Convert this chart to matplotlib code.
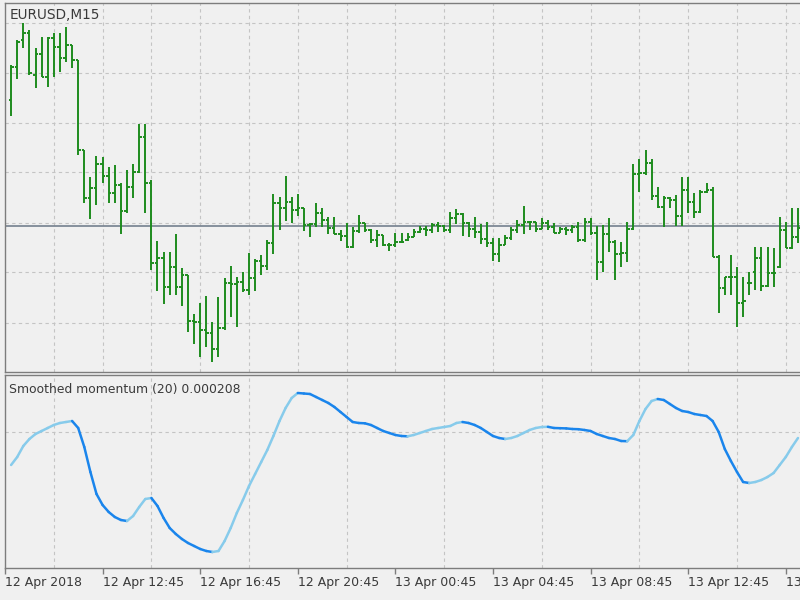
import numpy as np
import matplotlib
matplotlib.use("Agg")
import matplotlib.pyplot as plt
from matplotlib.collections import LineCollection

# ---------------- data ----------------
symbol_title = "EURUSD,M15"
indicator_name = "Smoothed momentum (20)"
indicator_last = "0.000208"

opens = [1.23645, 1.23711, 1.23765, 1.23779, 1.23695, 1.23737, 1.23691, 1.23769, 1.23751, 1.23729,
         1.23755, 1.23725, 1.23545, 1.23449, 1.23469, 1.23517, 1.23493, 1.23459, 1.23475, 1.23423,
         1.23471, 1.23501, 1.23571, 1.23479, 1.23319, 1.23329, 1.23271, 1.23311, 1.23271, 1.23295,
         1.23203, 1.23201, 1.23185, 1.23179, 1.23147, 1.23189, 1.23279, 1.23277, 1.23281, 1.23265,
         1.23289, 1.23323, 1.23313, 1.23359, 1.23439, 1.23429, 1.23441, 1.23425, 1.23429, 1.23395,
         1.23397, 1.23419, 1.23405, 1.23389, 1.23377, 1.23373, 1.23351, 1.23383, 1.23399, 1.23385,
         1.23365, 1.23375, 1.23355, 1.23355, 1.23361, 1.23365, 1.23371, 1.23381, 1.23387, 1.23385,
         1.23395, 1.23393, 1.23385, 1.23409, 1.23417, 1.23399, 1.23387, 1.23381, 1.23367, 1.23359,
         1.23337, 1.23355, 1.23369, 1.23385, 1.23395, 1.23401, 1.23401, 1.23387, 1.23399, 1.23391,
         1.23379, 1.23387, 1.23385, 1.23391, 1.23365, 1.23401, 1.23379, 1.23321, 1.23377, 1.23361,
         1.23337, 1.23339, 1.23387, 1.23497, 1.23499, 1.23519, 1.23453, 1.23431, 1.23449, 1.23445,
         1.23413, 1.23465, 1.23441, 1.23421, 1.23461, 1.23465, 1.23331, 1.23269, 1.23291, 1.23291,
         1.23239, 1.23279, 1.23301, 1.23329, 1.23273, 1.23299, 1.23311, 1.23385, 1.23349, 1.23371]
highs = [1.23715, 1.23765, 1.23799, 1.23785, 1.23749, 1.23771, 1.23771, 1.23779, 1.23779, 1.23791,
         1.23755, 1.23725, 1.23545, 1.23491, 1.23533, 1.23531, 1.23511, 1.23515, 1.23479, 1.23505,
         1.23517, 1.23597, 1.23597, 1.23485, 1.23363, 1.23341, 1.23341, 1.23377, 1.23309, 1.23295,
         1.23217, 1.23239, 1.23253, 1.23201, 1.23251, 1.23289, 1.23313, 1.23291, 1.23301, 1.23339,
         1.23327, 1.23335, 1.23365, 1.23457, 1.23451, 1.23493, 1.23451, 1.23457, 1.23429, 1.23399,
         1.23439, 1.23429, 1.23411, 1.23411, 1.23385, 1.23399, 1.23391, 1.23415, 1.23399, 1.23387,
         1.23385, 1.23375, 1.23359, 1.23379, 1.23379, 1.23379, 1.23387, 1.23393, 1.23393, 1.23399,
         1.23401, 1.23395, 1.23421, 1.23427, 1.23419, 1.23401, 1.23411, 1.23397, 1.23401, 1.23369,
         1.23369, 1.23375, 1.23391, 1.23405, 1.23433, 1.23403, 1.23401, 1.23409, 1.23405, 1.23399,
         1.23391, 1.23391, 1.23395, 1.23401, 1.23409, 1.23409, 1.23393, 1.23395, 1.23409, 1.23365,
         1.23361, 1.23401, 1.23517, 1.23527, 1.23545, 1.23527, 1.23471, 1.23453, 1.23451, 1.23455,
         1.23491, 1.23491, 1.23459, 1.23465, 1.23479, 1.23471, 1.23335, 1.23291, 1.23335, 1.23311,
         1.23291, 1.23301, 1.23351, 1.23351, 1.23351, 1.23349, 1.23411, 1.23401, 1.23429, 1.23429]
lows = [1.23613, 1.23687, 1.23749, 1.23695, 1.23669, 1.23691, 1.23671, 1.23691, 1.23701, 1.23721,
        1.23709, 1.23535, 1.23439, 1.23407, 1.23435, 1.23479, 1.23439, 1.23439, 1.23377, 1.23419,
        1.23449, 1.23499, 1.23419, 1.23305, 1.23263, 1.23237, 1.23255, 1.23255, 1.23233, 1.23181,
        1.23157, 1.23131, 1.23151, 1.23121, 1.23131, 1.23185, 1.23211, 1.23191, 1.23261, 1.23255,
        1.23263, 1.23295, 1.23305, 1.23337, 1.23385, 1.23403, 1.23399, 1.23413, 1.23383, 1.23371,
        1.23391, 1.23391, 1.23377, 1.23377, 1.23363, 1.23349, 1.23349, 1.23379, 1.23381, 1.23359,
        1.23351, 1.23353, 1.23343, 1.23351, 1.23359, 1.23363, 1.23371, 1.23379, 1.23373, 1.23379,
        1.23381, 1.23381, 1.23379, 1.23397, 1.23373, 1.23371, 1.23369, 1.23357, 1.23351, 1.23323,
        1.23321, 1.23355, 1.23365, 1.23379, 1.23377, 1.23385, 1.23381, 1.23387, 1.23385, 1.23379,
        1.23379, 1.23375, 1.23379, 1.23361, 1.23361, 1.23375, 1.23285, 1.23301, 1.23341, 1.23285,
        1.23311, 1.23321, 1.23385, 1.23461, 1.23495, 1.23445, 1.23429, 1.23391, 1.23429, 1.23393,
        1.23393, 1.23419, 1.23409, 1.23419, 1.23459, 1.23331, 1.23219, 1.23255, 1.23255, 1.23191,
        1.23211, 1.23255, 1.23265, 1.23263, 1.23271, 1.23271, 1.23309, 1.23349, 1.23347, 1.23359]
closes = [1.23711, 1.23761, 1.23779, 1.23699, 1.23737, 1.23691, 1.23769, 1.23751, 1.23729, 1.23755,
          1.23725, 1.23545, 1.23449, 1.23469, 1.23517, 1.23493, 1.23459, 1.23475, 1.23423, 1.23471,
          1.23501, 1.23571, 1.23479, 1.23319, 1.23329, 1.23271, 1.23311, 1.23271, 1.23295, 1.23203,
          1.23201, 1.23185, 1.23179, 1.23147, 1.23189, 1.23279, 1.23277, 1.23281, 1.23265, 1.23289,
          1.23323, 1.23313, 1.23359, 1.23439, 1.23429, 1.23441, 1.23425, 1.23429, 1.23395, 1.23397,
          1.23419, 1.23405, 1.23389, 1.23377, 1.23373, 1.23351, 1.23383, 1.23399, 1.23385, 1.23365,
          1.23375, 1.23355, 1.23355, 1.23361, 1.23361, 1.23371, 1.23381, 1.23387, 1.23385, 1.23395,
          1.23393, 1.23385, 1.23409, 1.23417, 1.23399, 1.23387, 1.23381, 1.23367, 1.23359, 1.23337,
          1.23355, 1.23369, 1.23385, 1.23395, 1.23401, 1.23401, 1.23387, 1.23399, 1.23391, 1.23379,
          1.23387, 1.23385, 1.23391, 1.23365, 1.23401, 1.23379, 1.23321, 1.23377, 1.23361, 1.23337,
          1.23339, 1.23387, 1.23497, 1.23499, 1.23519, 1.23453, 1.23431, 1.23449, 1.23445, 1.23413,
          1.23465, 1.23441, 1.23421, 1.23461, 1.23465, 1.23331, 1.23269, 1.23291, 1.23291, 1.23239,
          1.23243, 1.23279, 1.23329, 1.23273, 1.23299, 1.23299, 1.23385, 1.23349, 1.23371, 1.23389]

# smoothed momentum, in units of 1e-4
momentum = [-0.62, 0.18, 1.28, 1.98, 2.48, 2.78, 3.08, 3.38, 3.58, 3.68,
            3.78, 3.08, 1.18, -1.32, -3.52, -4.62, -5.32, -5.82, -6.12, -6.22,
            -5.72, -4.82, -4.02, -3.92, -4.72, -5.92, -6.92, -7.52, -8.02, -8.42,
            -8.72, -9.02, -9.22, -9.32, -9.22, -8.22, -6.92, -5.42, -4.12, -2.72,
            -1.52, -0.32, 0.88, 2.28, 3.78, 5.08, 6.08, 6.58, 6.53, 6.48,
            6.18, 5.88, 5.58, 5.18, 4.68, 4.18, 3.68, 3.58, 3.55, 3.38,
            3.08, 2.78, 2.58, 2.38, 2.28, 2.25, 2.38, 2.58, 2.78, 2.98,
            3.08, 3.18, 3.28, 3.58, 3.68, 3.58, 3.38, 3.08, 2.68, 2.28,
            2.08, 1.98, 2.08, 2.28, 2.58, 2.88, 3.08, 3.18, 3.20, 3.08,
            3.06, 3.04, 2.98, 2.96, 2.88, 2.78, 2.48, 2.28, 2.08, 1.98,
            1.78, 1.76, 2.38, 3.78, 4.98, 5.78, 5.98, 5.88, 5.48, 5.08,
            4.78, 4.68, 4.48, 4.38, 4.28, 3.78, 2.68, 0.98, -0.22, -1.32,
            -2.32, -2.42, -2.32, -2.12, -1.82, -1.42, -0.62, 0.18, 1.18, 2.08]

hline_price = 1.23393
time_labels = ["12 Apr 2018", "12 Apr 12:45", "12 Apr 16:45", "12 Apr 20:45",
               "13 Apr 00:45", "13 Apr 04:45", "13 Apr 08:45", "13 Apr 12:45",
               "13 Apr 16:45"]

# ---------------- styling ----------------
BG = "#f0f0f0"
GRID = "#c4c4c4"
SPINE = "#7d7d7d"
BAR_GREEN = "#1e8c1e"
LIGHT = "#87cbeb"
DARK = "#1a85ec"
TXT = "#3a3a3a"

plt.rcParams["font.family"] = ["DejaVu Sans"]

fig = plt.figure(figsize=(8, 6), dpi=100, facecolor=BG)
W, H = 800.0, 600.0
ax1 = fig.add_axes([5 / W, (H - 372) / H, 797 / W, 369 / H], facecolor=BG)
ax2 = fig.add_axes([5 / W, (H - 568) / H, 797 / W, 193 / H], facecolor=BG)

n = len(closes)
x = np.arange(n)
xmin, xmax = -1, -1 + 797 / 6.1

for ax in (ax1, ax2):
    ax.set_xlim(xmin, xmax)
    for s in ("left", "top", "bottom", "right"):
        ax.spines[s].set_color(SPINE)
        ax.spines[s].set_linewidth(1.0)
    ax.spines["right"].set_visible(False)
    grid_pos = np.arange(7, n, 8)
    ax.set_xticks(grid_pos, minor=True)
    ax.grid(True, which="minor", axis="x", color=GRID, linestyle=(0, (3, 3)), linewidth=0.8)
    ax.tick_params(axis="y", left=False, labelleft=False)

# ---- price panel ----
tk = 0.42
ax1.vlines(x, lows, highs, color=BAR_GREEN, linewidth=1.4)
ax1.hlines(opens, x - tk, x, color=BAR_GREEN, linewidth=1.4)
ax1.hlines(closes, x, x + tk, color=BAR_GREEN, linewidth=1.4)
ax1.axhline(hline_price, color="#74808e", linewidth=1.2, zorder=1)
ax1.set_ylim(1.23101, 1.23839)
ax1.set_yticks([1.232, 1.233, 1.234, 1.235, 1.236, 1.237, 1.238])
ax1.grid(True, which="major", axis="y", color=GRID, linestyle=(0, (3, 3)), linewidth=0.8)
ax1.tick_params(axis="x", which="both", bottom=False, labelbottom=False)
ax1.set_axisbelow(True)
ax1.text(5 / 797, 1 - 12 / 369, symbol_title, transform=ax1.transAxes,
         fontsize=9.8, color=TXT, va="center", ha="left")

# ---- momentum panel ----
mom = np.array(momentum)
pts = np.column_stack([x, mom])
segs = np.stack([pts[:-1], pts[1:]], axis=1)
cols = [LIGHT if mom[i + 1] > mom[i] else DARK for i in range(n - 1)]
lc = LineCollection(segs, colors=cols, linewidths=1.8, capstyle="round", joinstyle="round")
ax2.add_collection(lc)
ax2.set_ylim(-10.92, 8.38)
ax2.set_yticks([2.68])
ax2.grid(True, which="major", axis="y", color=GRID, linestyle=(0, (3, 3)), linewidth=0.8)
ax2.set_axisbelow(True)
ax2.text(4 / 797, 1 - 14 / 193, f"{indicator_name} {indicator_last}", transform=ax2.transAxes,
         fontsize=8.9, color=TXT, va="center", ha="left")

label_pos = np.arange(-1, n, 16)
ax2.set_xticks(label_pos)
ax2.set_xticklabels(time_labels[:len(label_pos)])
for lbl in ax2.get_xticklabels():
    lbl.set_horizontalalignment("left")
ax2.tick_params(axis="x", which="major", length=4, width=1, color=SPINE, pad=1.5,
                labelsize=9, labelcolor=TXT, direction="out")
ax2.tick_params(axis="x", which="minor", length=0)

fig.savefig("out.png", dpi=100, facecolor=BG)
